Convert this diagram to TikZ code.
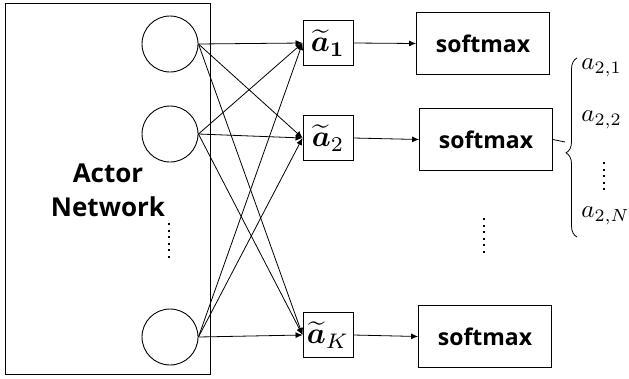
\documentclass[tikz,border=0pt]{standalone}
\usepackage{amsmath}
\usepackage{bm}
\usepackage{graphicx}
\usepackage{fontspec}
\setsansfont{Open Sans}
\usetikzlibrary{arrows.meta,decorations.pathreplacing}
\begin{document}
\begin{tikzpicture}[x=1pt,y=-1pt,
  line width=0.9pt,
  neuron/.style={draw,circle,minimum size=56pt,inner sep=0pt},
  abox/.style={draw,minimum width=50pt,minimum height=45pt,inner sep=0pt},
  smbox/.style={draw,minimum width=133pt,minimum height=62pt,inner sep=0pt,font=\sffamily\bfseries\fontsize{23}{26}\selectfont},
  conn/.style={-{Latex[length=7pt,width=6pt]},line width=0.8pt},
  vdots/.style={line width=2.5pt,dash pattern=on 2pt off 4.5pt},
  lab/.style={anchor=west,inner sep=1pt}
]
\useasboundingbox (0,0) rectangle (629,378);
\node[draw,minimum width=205pt,minimum height=371pt,inner sep=0pt] (actor) at (107.5,188.5) {};
\node[font=\sffamily\bfseries\fontsize{26}{34}\selectfont,align=center] (actortxt) at (108,190) {Actor\\Network};
\node[neuron] (c1) at (170,44) {};
\node[neuron] (c2) at (170,134) {};
\node[neuron] (c3) at (170,337) {};
\node[abox] (a1) at (328,43) {\scalebox{3}{$\widetilde{\bm a}_{\bm 1}$}};
\node[abox] (a2) at (328,138) {\scalebox{3}{$\widetilde{\bm a}_{2}$}};
\node[abox] (aK) at (328,335) {\scalebox{3}{$\widetilde{\bm a}_{K}$}};
\node[smbox] (s1) at (483,43.5) {softmax};
\node[smbox] (s2) at (486,139.5) {softmax};
\node[smbox] (s3) at (485,336.5) {softmax};
\foreach \c in {c1,c2,c3}{
  \foreach \a in {a1,a2,aK}{
    \draw[conn] (\c.east) -- (\a.west);
  }
}
\draw[conn] (a1.east) -- (s1.west);
\draw[conn] (a2.east) -- (s2.west);
\draw[conn] (aK.east) -- (s3.west);
\coordinate (dA1) at (169,223);
\coordinate (dA2) at (169,259);
\draw[vdots] (dA1) -- (dA2);
\coordinate (dS1) at (484,218);
\coordinate (dS2) at (484,253);
\draw[vdots] (dS1) -- (dS2);
\coordinate (bb) at (577,237);
\coordinate (bt) at (577,58);
\draw[line width=0.8pt,decorate,decoration={brace,amplitude=11pt,aspect=0.47}] (bb) -- (bt);
\coordinate (tip) at (565,142);
\draw[line width=0.8pt] (s2.east) -- (tip);
\node[lab] (l1) at (580,68) {\scalebox{2.5}{$a_{2,1}$}};
\node[lab] (l2) at (580,120) {\scalebox{2.5}{$a_{2,2}$}};
\coordinate (dL1) at (604,162);
\coordinate (dL2) at (604,192);
\draw[vdots] (dL1) -- (dL2);
\node[lab] (lN) at (580,216) {\scalebox{2.5}{$a_{2,N}$}};
\end{tikzpicture}
\end{document}
